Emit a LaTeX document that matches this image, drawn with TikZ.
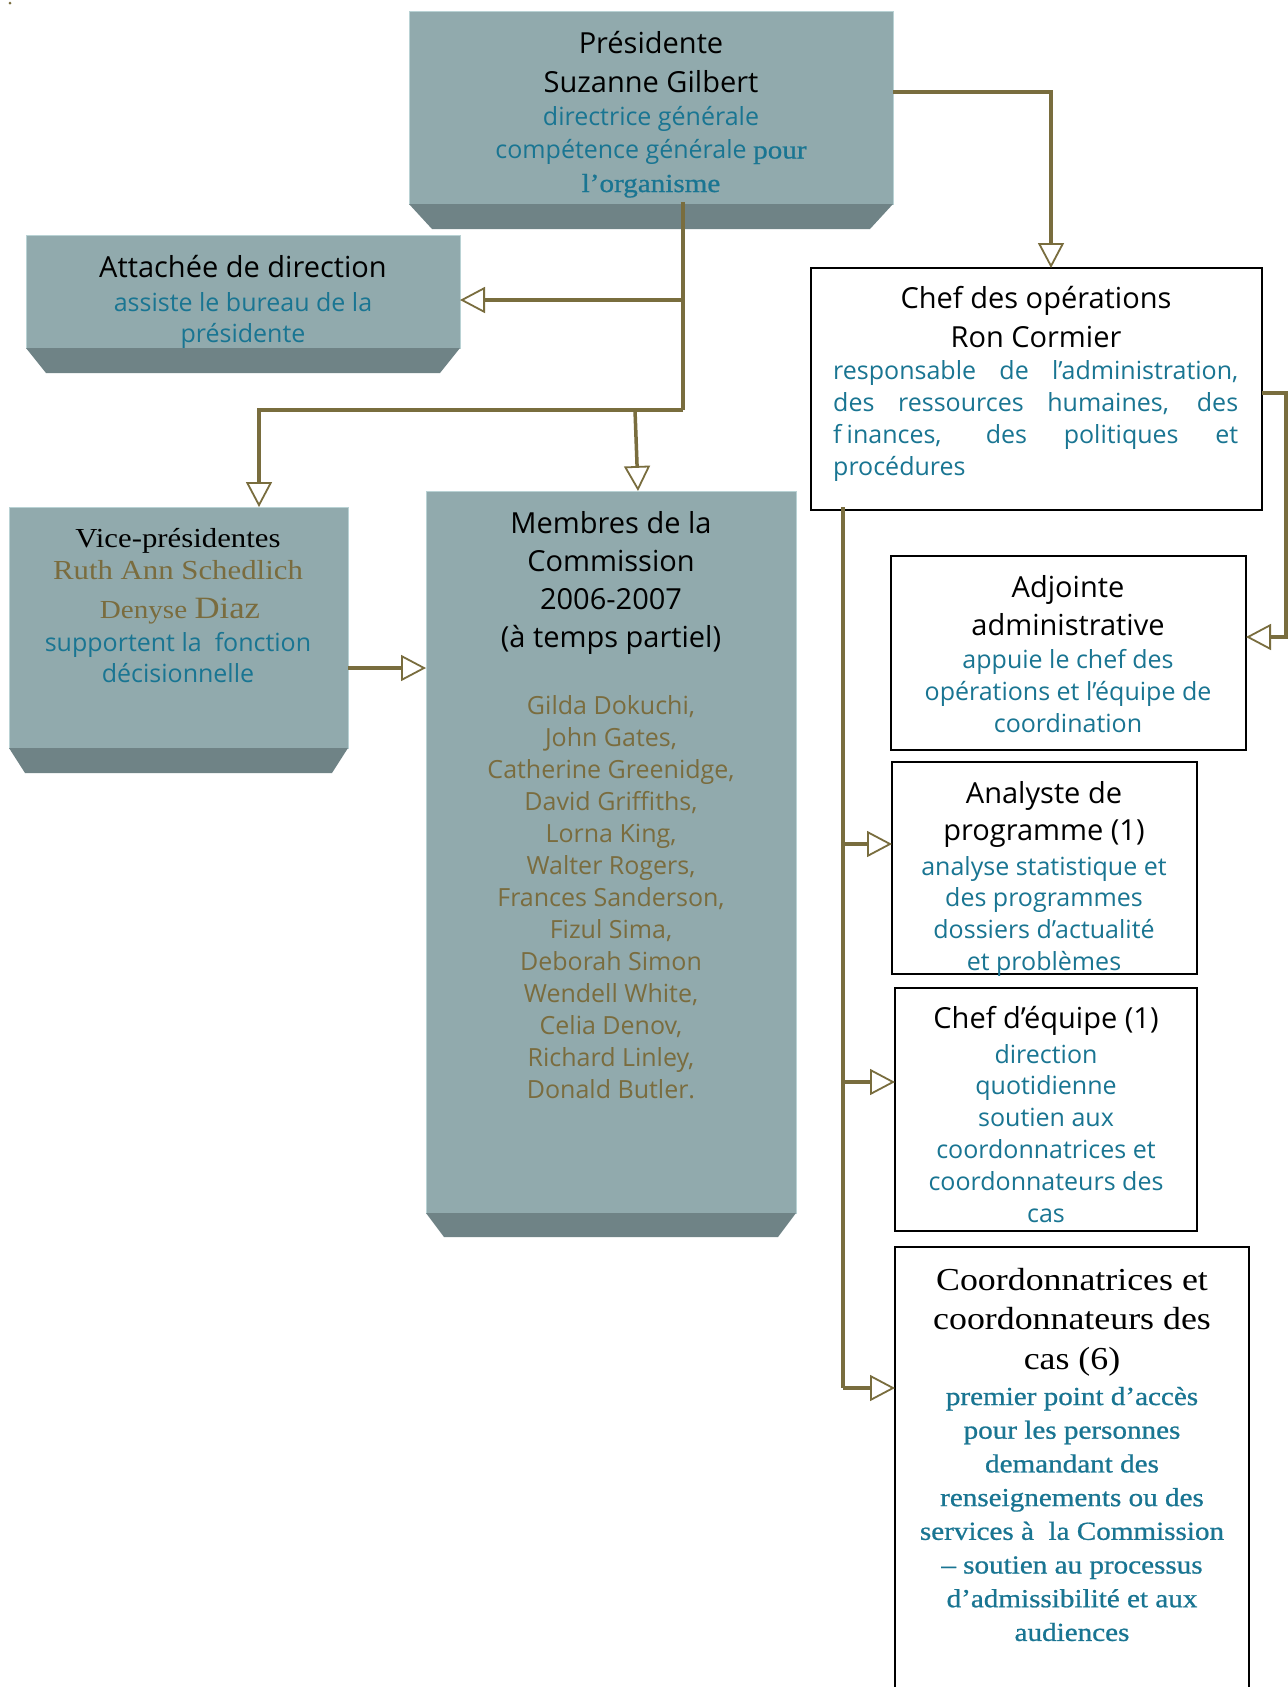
\documentclass[tikz,border=0pt]{standalone}
\usepackage{fontspec}
\setmainfont{Open Sans}
\newfontfamily\serf[FakeStretch=1.12]{Liberation Serif}
\newfontfamily\serfb[FakeStretch=1.12,FakeBold=0.8]{Liberation Serif}
\usetikzlibrary{arrows.meta}
\definecolor{boxfill}{RGB}{145,170,173}
\definecolor{boxshade}{RGB}{111,131,134}
\definecolor{boxedge}{RGB}{185,210,212}
\definecolor{txtblue}{RGB}{25,117,146}
\definecolor{txtolive}{RGB}{122,108,62}
\definecolor{lineolive}{RGB}{121,109,62}
\newcommand\blk[3]{\fontsize{#1pt}{#2pt}\selectfont\begin{tabular}[t]{@{}c@{}}#3\end{tabular}}
\newcommand\shadowof[3]{\fill[shadefill] (#1.south west) -- (#1.south east) -- ([xshift=-#2pt,yshift=-#3pt]#1.south east) -- ([xshift=#2pt,yshift=-#3pt]#1.south west) -- cycle;}
\begin{document}
\begin{tikzpicture}[x=1pt,y=-1pt,
  solidbox/.style={draw=boxedge, line width=1pt, fill=boxfill, inner sep=0pt, outer sep=0pt, anchor=north west},
  plainbox/.style={draw=black, line width=1.6pt, fill=white, inner sep=0pt, outer sep=0pt, anchor=north west},
  shadefill/.style={fill=boxshade},
  txt/.style={inner sep=0pt, anchor=base},
  conn/.style={draw=lineolive, line width=3.5pt},
  tip/.style={conn, -{Triangle[open, length=25pt, width=26pt, line width=1.8pt]}},
]
\useasboundingbox (0,0) rectangle (1288,1687);
\fill[white] (0,0) rectangle (1288,1687);

% shaded 3D boxes
\node[solidbox, minimum width=484pt, minimum height=193pt] (pres) at (409,11) {};
\shadowof{pres}{23}{25}
\node[solidbox, minimum width=434pt, minimum height=113pt] (att) at (26,235) {};
\shadowof{att}{20}{25}
\node[solidbox, minimum width=339pt, minimum height=241pt] (vice) at (9,507) {};
\shadowof{vice}{16}{25}
\node[solidbox, minimum width=370pt, minimum height=722pt] (mem) at (426,491) {};
\shadowof{mem}{18}{24}

% plain boxes
\node[plainbox, minimum width=451pt, minimum height=242pt] (chef) at (811,268) {};
\node[plainbox, minimum width=355pt, minimum height=194pt] (adj) at (891,556) {};
\node[plainbox, minimum width=305pt, minimum height=212pt] (ana) at (892,762) {};
\node[plainbox, minimum width=302pt, minimum height=243pt] (ceq) at (895,988) {};
\node[plainbox, minimum width=354pt, minimum height=460pt] (coord) at (895,1247) {};

% texts
\node[txt] (prest) at (651,53) {\blk{29}{39}{Présidente\\Suzanne Gilbert}};
\node[txt, text=txtblue] (presd) at (651,125) {\blk{25}{33.5}{directrice générale\\compétence générale {\serfb\fontsize{26pt}{33.5pt}\selectfont pour}\\{\serfb\fontsize{26pt}{33.5pt}\selectfont l’organisme}}};

\node[txt] (attt) at (243,277) {\blk{29}{38}{Attachée de direction}};
\node[txt, text=txtblue] (attd) at (243,311) {\blk{25}{31}{assiste le bureau de la\\présidente}};

\node[txt] (vicet) at (178,547) {\serf\fontsize{27.5pt}{33pt}\selectfont Vice-présidentes};
\node[txt, text=txtolive] (vicen1) at (178,579) {\serf\fontsize{27.5pt}{33pt}\selectfont Ruth Ann Schedlich};
\node[txt, text=txtolive] (vicen2) at (180,618) {\serf\fontsize{26pt}{33pt}\selectfont Denyse \fontsize{31pt}{33pt}\selectfont Diaz};
\node[txt, text=txtblue] (viced) at (178,651) {\blk{25}{31}{supportent la~~fonction\\décisionnelle}};

\node[txt] (memt) at (611,533) {\blk{29}{38.3}{Membres de la\\Commission\\2006-2007\\(à temps partiel)}};
\node[txt, text=txtolive] (memd) at (611,714) {\blk{25}{32.08}{Gilda Dokuchi,\\John Gates,\\Catherine Greenidge,\\David Griffiths,\\Lorna King,\\Walter Rogers,\\Frances Sanderson,\\Fizul Sima,\\Deborah Simon\\Wendell White,\\Celia Denov,\\Richard Linley,\\Donald Butler.}};

\node[txt] (cheft) at (1036,308) {\blk{29}{39}{Chef des opérations\\Ron Cormier}};
\node[txt, anchor=base west, text=txtblue] (chefd) at (833,379) {\fontsize{25pt}{32.3pt}\selectfont\begin{tabular}[t]{@{}l@{}}\makebox[405pt][s]{responsable de l’administration,}\\\makebox[405pt][s]{des ressources humaines, des}\\\makebox[405pt][s]{f\kern5pt inances, des politiques et}\\procédures\end{tabular}};

\node[txt] (adjt) at (1068,597) {\blk{29}{38}{Adjointe\\administrative}};
\node[txt, text=txtblue] (adjd) at (1068,668) {\blk{25}{32}{appuie le chef des\\opérations et l’équipe de\\coordination}};

\node[txt] (anat) at (1044,803) {\blk{29}{37}{Analyste de\\programme (1)}};
\node[txt, text=txtblue] (anad) at (1044,875) {\blk{25}{31.7}{analyse statistique et\\des programmes\\dossiers d’actualité\\et problèmes}};

\node[txt] (ceqt) at (1046,1028) {\blk{29}{38}{Chef d’équipe (1)}};
\node[txt, text=txtblue] (ceqd) at (1046,1063) {\blk{25}{31.8}{direction\\quotidienne\\soutien aux\\coordonnatrices et\\coordonnateurs des\\cas}};

\node[txt] (coordt) at (1072,1290) {\serf\blk{32}{39.5}{Coordonnatrices et\\coordonnateurs des\\cas (6)}};
\node[txt, text=txtblue] (coordd) at (1072,1405) {\serfb\blk{26}{33.7}{premier point d’accès\\pour les personnes\\demandant des\\renseignements ou des\\services à~~la Commission\\– soutien au processus\\d’admissibilité et aux\\audiences}};

% connectors
\coordinate (jP) at (683,410);
\coordinate (jA) at (683,300);
\coordinate (jM) at (635,410);
\coordinate (mX) at (638,0);
\coordinate (vX) at (259,0);
\coordinate (yVM) at (0,668);
\coordinate (yPC) at (0,92);
\coordinate (cX) at (1051,0);
\coordinate (cR) at (1286,393);
\coordinate (yAdj) at (0,637);
\coordinate (tX) at (843,0);
\coordinate (yAna) at (0,844);
\coordinate (yCeq) at (0,1082);
\coordinate (yCo) at (0,1388);

\draw[conn] ([yshift=2pt]pres.south -| jP) -- (jP);
\draw[tip] (jA) -- (att.east |- jA);
\draw[tip] (jP) -| (vice.north -| vX);
\draw[tip] (jM) -- (mem.north -| mX);
\draw[tip] (vice.east |- yVM) -- (mem.west |- yVM);
\draw[tip] (pres.east |- yPC) -| (chef.north -| cX);
\draw[tip] (chef.east |- cR) -- (cR) |- (adj.east |- yAdj);
\draw[conn] ([yshift=3pt]chef.south -| tX) -- (tX |- yCo);
\draw[tip] (tX |- yAna) -- (ana.west |- yAna);
\draw[tip] (tX |- yCeq) -- (ceq.west |- yCeq);
\draw[tip] (tX |- yCo) -- (coord.west |- yCo);
\fill[lineolive] (10,3) circle (1.5pt);
\end{tikzpicture}
\end{document}
